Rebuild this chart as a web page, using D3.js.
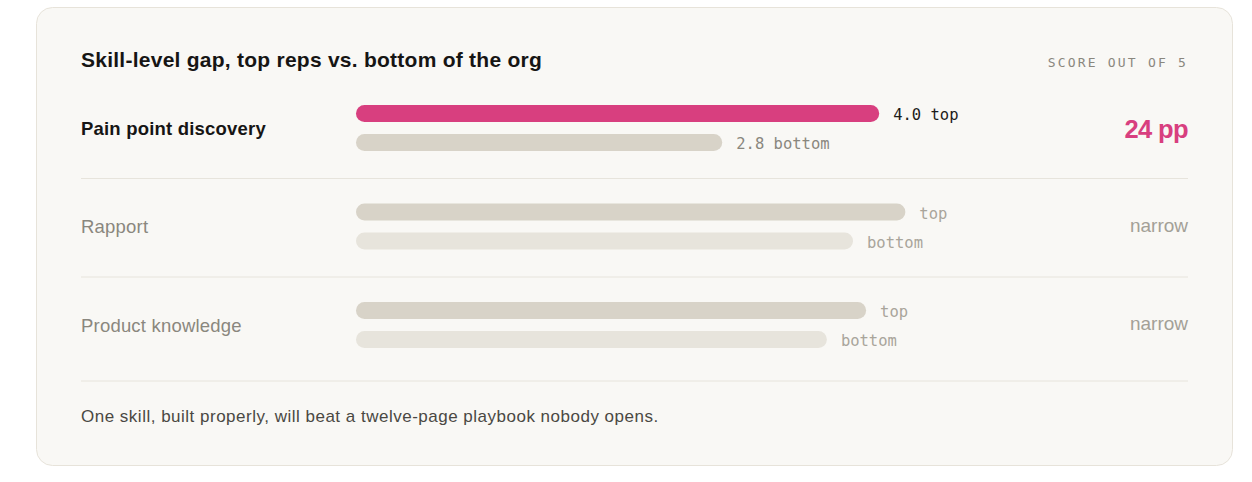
<!DOCTYPE html>
<html>
<head>
<meta charset="utf-8">
<script src="https://cdn.jsdelivr.net/npm/d3@7"></script>
<style>
  html, body { margin: 0; padding: 0; background: #ffffff; }
  svg { display: block; }
</style>
</head>
<body>
<svg id="chart" width="1252" height="482"></svg>
<script>
// ---- data ----
const title = "Skill-level gap, top reps vs. bottom of the org";
const scaleNote = "SCORE OUT OF 5";
const skills = ["Pain point discovery", "Rapport", "Product knowledge"];
const topScores = [4.0, 4.2, 3.9];
const bottomScores = [2.8, 3.8, 3.6];
const gapLabels = ["24 pp", "narrow", "narrow"];
const highlighted = [true, false, false];
const scoreDomain = [0, 5];
const footnote = "One skill, built properly, will beat a twelve-page playbook nobody opens.";

// ---- layout ----
const svg = d3.select("#chart");
const sans = "'Liberation Sans', Arial, Helvetica, sans-serif";
const mono = "'DejaVu Sans Mono', 'Liberation Mono', monospace";

svg.append("rect")
  .attr("x", 36.5).attr("y", 7.5).attr("width", 1196).attr("height", 458)
  .attr("rx", 16).attr("ry", 16)
  .attr("fill", "#f9f8f5").attr("stroke", "#e7e3da").attr("stroke-width", 1);

svg.append("text").attr("x", 81).attr("y", 67)
  .attr("font-family", sans).attr("font-weight", 700).attr("font-size", 21)
  .attr("letter-spacing", 0.25)
  .attr("fill", "#161514").text(title);

svg.append("text").attr("x", 1188).attr("y", 67).attr("text-anchor", "end")
  .attr("font-family", mono).attr("font-size", 13).attr("letter-spacing", 2.2)
  .attr("fill", "#8a877e").text(scaleNote);

const x = d3.scaleLinear().domain(scoreDomain).range([356, 1010]);
const rowY = d3.scalePoint().domain(skills).range([105, 302]);
const barH = 17, barGap = 29;
const mid = (barGap + barH) / 2;

const rows = skills.map((s, i) => ({
  skill: s, top: topScores[i], bottom: bottomScores[i], gap: gapLabels[i], hi: highlighted[i]
}));

const g = svg.append("g");
const row = g.selectAll("g.row").data(rows).join("g").attr("class", "row")
  .attr("transform", d => `translate(0,${rowY(d.skill)})`);

// separators
row.append("line")
  .attr("x1", 81).attr("x2", 1188)
  .attr("y1", (d, i) => i < rows.length - 1 ? 73.5 : 79)
  .attr("y2", (d, i) => i < rows.length - 1 ? 73.5 : 79)
  .attr("stroke", "#e7e4dc").attr("stroke-width", 1);

// skill labels
row.append("text").attr("x", 81).attr("y", mid + 6.5)
  .attr("font-family", sans).attr("font-size", 18.5)
  .attr("letter-spacing", 0.2)
  .attr("font-weight", d => d.hi ? 700 : 400)
  .attr("fill", d => d.hi ? "#161514" : "#8a877e")
  .text(d => d.skill);

// top bars
row.append("rect")
  .attr("x", x(0)).attr("y", 0).attr("height", barH).attr("rx", barH / 2)
  .attr("width", d => x(d.top) - x(0))
  .attr("fill", d => d.hi ? "#d83f7f" : "#d8d3c8");

// bottom bars
row.append("rect")
  .attr("x", x(0)).attr("y", barGap).attr("height", barH).attr("rx", barH / 2)
  .attr("width", d => x(d.bottom) - x(0))
  .attr("fill", d => d.hi ? "#d8d3c8" : "#e7e4dc");

// bar labels
row.append("text")
  .attr("x", d => x(d.top) + 14).attr("y", barH / 2 + 6.5)
  .attr("font-family", mono).attr("font-size", 15.5)
  .attr("fill", d => d.hi ? "#1d1c1a" : "#a9a59b")
  .text(d => d.hi ? `${d3.format(".1f")(d.top)} top` : "top");

row.append("text")
  .attr("x", d => x(d.bottom) + 14).attr("y", barGap + barH / 2 + 6.5)
  .attr("font-family", mono).attr("font-size", 15.5)
  .attr("fill", d => d.hi ? "#8a877e" : "#a9a59b")
  .text(d => d.hi ? `${d3.format(".1f")(d.bottom)} bottom` : "bottom");

// gap labels
row.append("text").attr("x", 1188).attr("y", d => d.hi ? 33 : 28)
  .attr("text-anchor", "end")
  .attr("font-family", sans)
  .attr("font-size", d => d.hi ? 25.5 : 19)
  .attr("font-weight", d => d.hi ? 700 : 400)
  .attr("letter-spacing", d => d.hi ? -0.6 : 0)
  .attr("fill", d => d.hi ? "#d83f7f" : "#a3a097")
  .text(d => d.gap);

svg.append("text").attr("x", 81).attr("y", 422)
  .attr("font-family", sans).attr("font-size", 17)
  .attr("letter-spacing", 0.5)
  .attr("fill", "#4a4843").text(footnote);
</script>
</body>
</html>
